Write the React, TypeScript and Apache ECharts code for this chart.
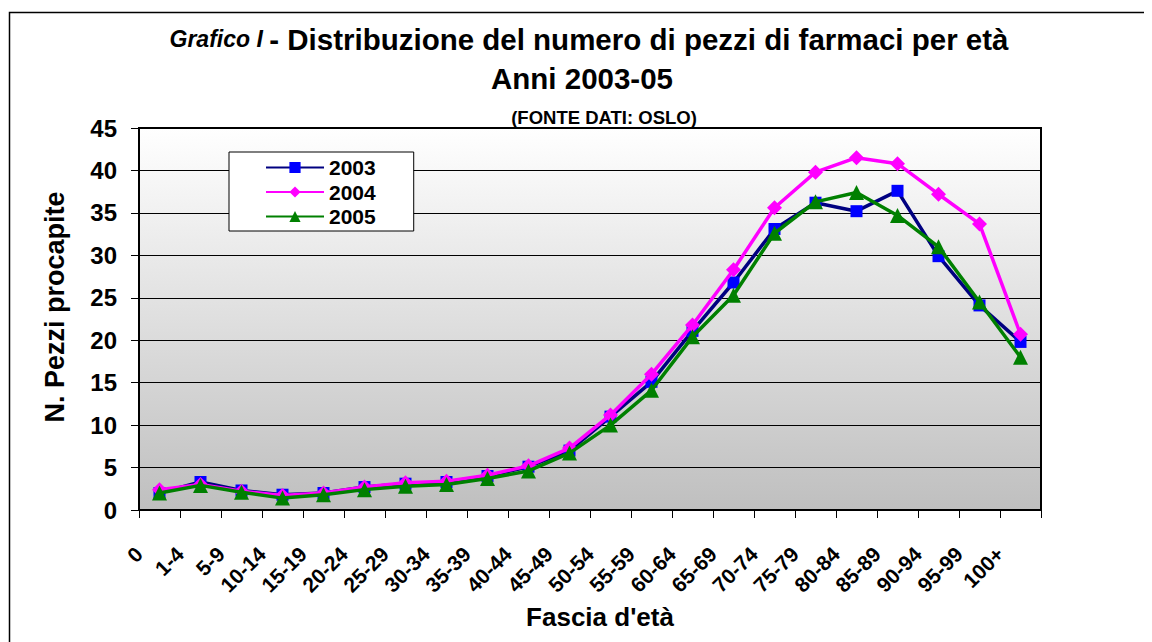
import React, { useEffect, useRef } from "react";
import * as echarts from "echarts";

const categories = ["0", "1-4", "5-9", "10-14", "15-19", "20-24", "25-29", "30-34", "35-39", "40-44", "45-49", "50-54", "55-59", "60-64", "65-69", "70-74", "75-79", "80-84", "85-89", "90-94", "95-99", "100+"];
const values2003 = [2.0, 3.3, 2.3, 1.8, 2.0, 2.7, 3.1, 3.3, 4.0, 5.1, 7.0, 11.0, 15.1, 21.1, 26.8, 33.1, 36.2, 35.2, 37.6, 29.9, 24.1, 19.8];
const values2004 = [2.4, 3.0, 2.2, 1.7, 2.0, 2.7, 3.2, 3.4, 4.1, 5.2, 7.3, 11.2, 16.0, 21.8, 28.3, 35.6, 39.8, 41.5, 40.8, 37.2, 33.7, 20.7];
const values2005 = [2.0, 2.9, 2.1, 1.4, 1.8, 2.4, 2.8, 3.0, 3.7, 4.6, 6.7, 10.0, 14.1, 20.4, 25.3, 32.6, 36.3, 37.4, 34.7, 31.0, 24.5, 18.0];
const seriesNames = ["2003", "2004", "2005"];
const yTicks = { min: 0, max: 45, interval: 5 };

const FONT = "'Liberation Sans', Arial, sans-serif";

export default function App() {
  const ref = useRef<HTMLDivElement>(null);
  useEffect(() => {
    if (!ref.current) return;
    const chart = echarts.init(ref.current, null, { renderer: "svg" });
    chart.setOption({
      animation: false,
      backgroundColor: "#ffffff",
      grid: {
        left: 131,
        top: 120,
        right: 111,
        bottom: 132,
        show: true,
        borderColor: "#000",
        borderWidth: 2,
        backgroundColor: new echarts.graphic.LinearGradient(0, 0, 0, 1, [
          { offset: 0, color: "#ffffff" },
          { offset: 1, color: "#bfbfbf" },
        ]),
      },
      legend: {
        orient: "vertical",
        left: 221,
        top: 144,
        itemWidth: 58,
        itemHeight: 14,
        itemGap: 3.5,
        padding: [5, 38, 4, 36],
        backgroundColor: "#ffffff",
        borderColor: "#000",
        borderWidth: 1,
        textStyle: { fontFamily: FONT, fontSize: 21, fontWeight: "bold", color: "#000" },
        data: seriesNames,
      },
      xAxis: {
        type: "category",
        data: categories,
        boundaryGap: true,
        axisLine: { show: true, lineStyle: { color: "#000", width: 2 } },
        axisTick: { show: true, length: 8, interval: 0, lineStyle: { color: "#000", width: 1 } },
        axisLabel: {
          interval: 0,
          rotate: 45,
          margin: 20,
          padding: [0, 29, 0, 0],
          fontFamily: FONT,
          fontSize: 21,
          fontWeight: "bold",
          color: "#000",
        },
        splitLine: { show: false },
      },
      yAxis: {
        type: "value",
        min: yTicks.min,
        max: yTicks.max,
        interval: yTicks.interval,
        axisLine: { show: true, lineStyle: { color: "#000", width: 2 } },
        axisTick: { show: true, length: 8, lineStyle: { color: "#000", width: 1 } },
        axisLabel: { margin: 22, fontFamily: FONT, fontSize: 24, fontWeight: "bold", color: "#000" },
        splitLine: { show: true, lineStyle: { color: "#000", width: 1 } },
      },
      series: [
        {
          name: seriesNames[0],
          type: "line",
          data: values2003,
          symbol: "rect",
          symbolSize: 12,
          lineStyle: { color: "#000080", width: 3.5 },
          itemStyle: { color: "#0000ff" },
          z: 3,
        },
        {
          name: seriesNames[1],
          type: "line",
          data: values2004,
          symbol: "diamond",
          symbolSize: 15,
          lineStyle: { color: "#ff00ff", width: 3.5 },
          itemStyle: { color: "#ff00ff" },
          z: 4,
        },
        {
          name: seriesNames[2],
          type: "line",
          data: values2005,
          symbol: "triangle",
          symbolSize: 15,
          lineStyle: { color: "#008000", width: 3.5 },
          itemStyle: { color: "#008000" },
          z: 5,
        },
      ],
      graphic: [
        {
          type: "rect",
          shape: { x: 1.5, y: 4.5, width: 1300, height: 1000 },
          style: { fill: "none", stroke: "#000", lineWidth: 1.5 },
          silent: true,
        },
        {
          type: "text",
          x: 581,
          y: 31,
          style: {
            text: "{a|Grafico I }{b|- Distribuzione del numero di pezzi di farmaci per età}",
            align: "center",
            verticalAlign: "middle",
            fill: "#000",
            rich: {
              a: { font: `italic bold 23px ${FONT}`, fill: "#000" },
              b: { font: `bold 29.5px ${FONT}`, fill: "#000" },
            },
          },
        },
        {
          type: "text",
          x: 574,
          y: 70,
          style: { text: "Anni 2003-05", font: `bold 29.5px ${FONT}`, fill: "#000", align: "center", verticalAlign: "middle" },
        },
        {
          type: "text",
          x: 596,
          y: 109,
          style: { text: "(FONTE DATI: OSLO)", font: `bold 18.5px ${FONT}`, fill: "#000", align: "center", verticalAlign: "middle" },
        },
        {
          type: "text",
          x: 47,
          y: 299,
          rotation: Math.PI / 2,
          style: { text: "N. Pezzi procapite", font: `bold 27px ${FONT}`, fill: "#000", align: "center", verticalAlign: "middle" },
        },
        {
          type: "text",
          x: 592,
          y: 609,
          style: { text: "Fascia d'età", font: `bold 26px ${FONT}`, fill: "#000", align: "center", verticalAlign: "middle" },
        },
      ],
    });
    return () => chart.dispose();
  }, []);
  return <div ref={ref} style={{ width: 1144, height: 634 }} />;
}
